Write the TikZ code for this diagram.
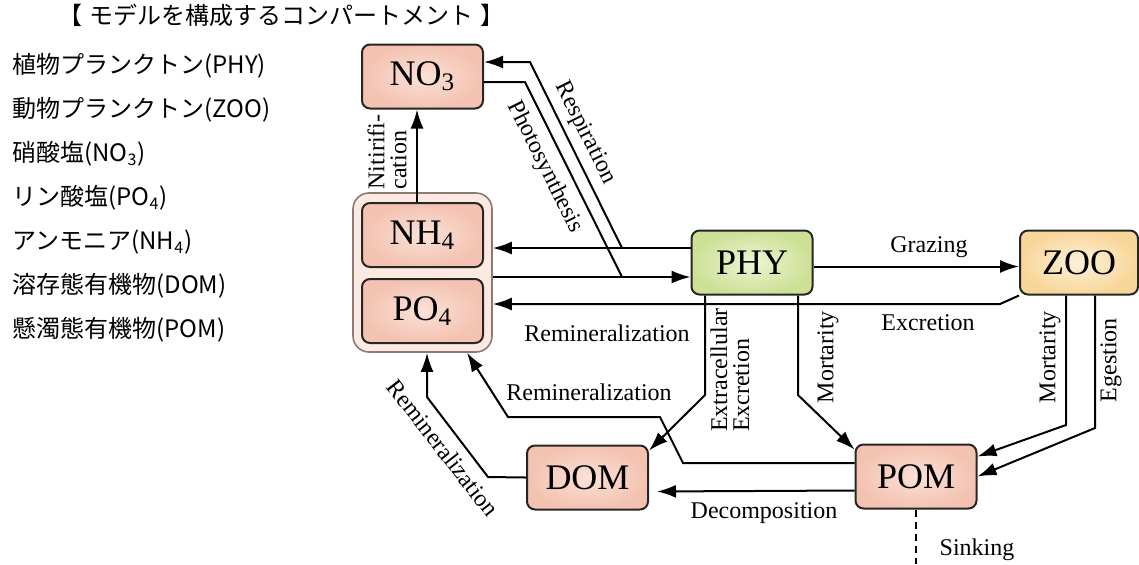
\documentclass[tikz,border=0pt]{standalone}
\usepackage{fontspec}
\setmainfont{Liberation Serif}
\newfontfamily\jpfont{Noto Sans CJK JP}
\usepackage{tikz}
\usetikzlibrary{arrows.meta,positioning,calc}
\definecolor{redout}{HTML}{F3C2B1}
\definecolor{redin}{HTML}{FBE1D7}
\definecolor{greenout}{HTML}{CDE096}
\definecolor{greenin}{HTML}{EEF5D4}
\definecolor{yellowout}{HTML}{F8D699}
\definecolor{yellowin}{HTML}{FDF1D8}
\definecolor{grpfill}{HTML}{FBE9E2}
\definecolor{grpline}{HTML}{8C7B72}
\tikzstyle{line} = [draw, line width=1pt, -{Latex[length=9.5pt,width=6.5pt]}]
\tikzstyle{flow} = [draw, line width=1pt]
\tikzstyle{comp} = [draw=black!85, line width=1pt, rectangle, rounded corners=4pt, inner color=redin, outer color=redout, minimum width=60.5pt, minimum height=32pt, font=\fontsize{18}{20}\selectfont]
\tikzstyle{grp} = [draw=grpline, line width=0.8pt, rectangle, rounded corners=8pt, fill=grpfill]
\tikzstyle{lbl} = [font=\fontsize{12}{11}\selectfont, inner sep=0pt]
\tikzstyle{jplbl} = [font=\jpfont\fontsize{12}{14}\selectfont, anchor=west, inner sep=0pt]

\begin{document}
\begin{tikzpicture}[x=0.5pt, y=-0.5pt]
    \useasboundingbox (0,0) rectangle (1139,564);
    \node [jplbl] (title) at (58,15) {【\hspace{0.3em}モデルを構成するコンパートメント\hspace{0.3em}】};
    \node [jplbl] (l1) at (12,66) {植物プランクトン(PHY)};
    \node [jplbl, below=22pt of l1.west, anchor=west] (l2) {動物プランクトン(ZOO)};
    \node [jplbl, below=22pt of l2.west, anchor=west] (l3) {硝酸塩(NO\textsubscript{3})};
    \node [jplbl, below=22pt of l3.west, anchor=west] (l4) {リン酸塩(PO\textsubscript{4})};
    \node [jplbl, below=22pt of l4.west, anchor=west] (l5) {アンモニア(NH\textsubscript{4})};
    \node [jplbl, below=22pt of l5.west, anchor=west] (l6) {溶存態有機物(DOM)};
    \node [jplbl, below=22pt of l6.west, anchor=west] (l7) {懸濁態有機物(POM)};

    \node [grp, minimum width=69.5pt, minimum height=79.5pt] (nut) at (422.5,272.5) {};
    \node [comp] (nh4) at (422.5,235) {NH\textsubscript{4}};
    \node [comp, below=5pt of nh4] (po4) {PO\textsubscript{4}};
    \node [comp] (no3) at (422.5,76.5) {NO\textsubscript{3}};
    \node [comp, inner color=greenin, outer color=greenout] (phy) at (752,262.5) {PHY};
    \node [comp, inner color=yellowin, outer color=yellowout, minimum width=59pt] (zoo) at (1079,262.5) {ZOO};
    \node [comp] (dom) at (587.5,477.5) {DOM};
    \node [comp] (pom) at (916,476.5) {POM};

    \coordinate (rsp) at (622,248);
    \coordinate (rsptop) at (530,62);
    \coordinate (pht) at (622,277);
    \coordinate (phttop) at (525,82);
    \coordinate (exc) at (1000,304);
    \coordinate (ext) at (705,395);
    \coordinate (pmt) at (798,395);
    \coordinate (zmt) at (1066,425);
    \coordinate (egs) at (1095,428);
    \coordinate (rm1) at (683,463);
    \coordinate (rm2) at (660,417);
    \coordinate (rm3) at (508,417);
    \coordinate (dm1) at (488,477);
    \coordinate (dm2) at (427,397);
    \coordinate (sinkend) at (916,564);

    \path [line] ([xshift=-2.75pt]nh4.north) -- ([xshift=-2.75pt]no3.south);
    \path [line] (phy.west |- rsp) -- (rsp -| nut.east);
    \path [line] (rsp) -- (rsptop) -- (rsptop -| no3.east);
    \path [line] (pht -| nut.east) -- (pht -| phy.west);
    \path [flow] (phttop -| no3.east) -- (phttop) -- (pht);
    \path [line] ([yshift=-2pt]phy.east) -- ([yshift=-2pt]zoo.west);
    \path [line] (zoo.south west) -- (exc) -- (exc -| nut.east);
    \path [line] (phy.south -| ext) -- (ext) -- ([yshift=-3pt]dom.north east);
    \path [line] (phy.south -| pmt) -- (pmt) -- ([yshift=-3pt]pom.north west);
    \path [line] (zoo.south -| zmt) -- (zmt) -- ([yshift=-6.5pt]pom.north east);
    \path [line] (zoo.south -| egs) -- (egs) -- (pom.east);
    \path [line, shorten >=4pt] ([yshift=-7pt]pom.west) -- ([yshift=-7pt]dom.east);
    \path [line] ([yshift=6.75pt]pom.west) -- (rm1) -- (rm2) -- (rm3) -- ($(nut.south)+(44.5,0)$);
    \path [line] (dom.west) -- (dm1) -- (dm2) -- (dm2 |- nut.south);
    \path [draw, dash pattern=on 3.5pt off 2.5pt, line width=1pt] (pom.south) -- (sinkend);

    \node [lbl, rotate=90, align=left] (nitlbl) at (387,152) {Nitirifi-\\cation};
    \node [lbl, rotate=-63.7] (rsplbl) at (585,133) {Respiration};
    \node [lbl, rotate=-63.5] (phtlbl) at (545,167) {Photosynthesis};
    \node [lbl] (grzlbl) at (929,247) {Grazing};
    \node [lbl] (exclbl) at (928,323) {Excretion};
    \node [lbl] (rem1lbl) at (607,333) {Remineralization};
    \node [lbl] (rem2lbl) at (589,392) {Remineralization};
    \node [lbl, rotate=-52] (rem3lbl) at (443,448) {Remineralization};
    \node [lbl, rotate=90, align=left] (extlbl) at (730,370) {Extracellular\\Excretion};
    \node [lbl, rotate=90] (pmtlbl) at (828,357) {Mortarity};
    \node [lbl, rotate=90] (zmtlbl) at (1050,357) {Mortarity};
    \node [lbl, rotate=90] (egslbl) at (1111,360) {Egestion};
    \node [lbl] (dcplbl) at (764,513) {Decomposition};
    \node [lbl] (snklbl) at (977,550) {Sinking};
\end{tikzpicture}
\end{document}
